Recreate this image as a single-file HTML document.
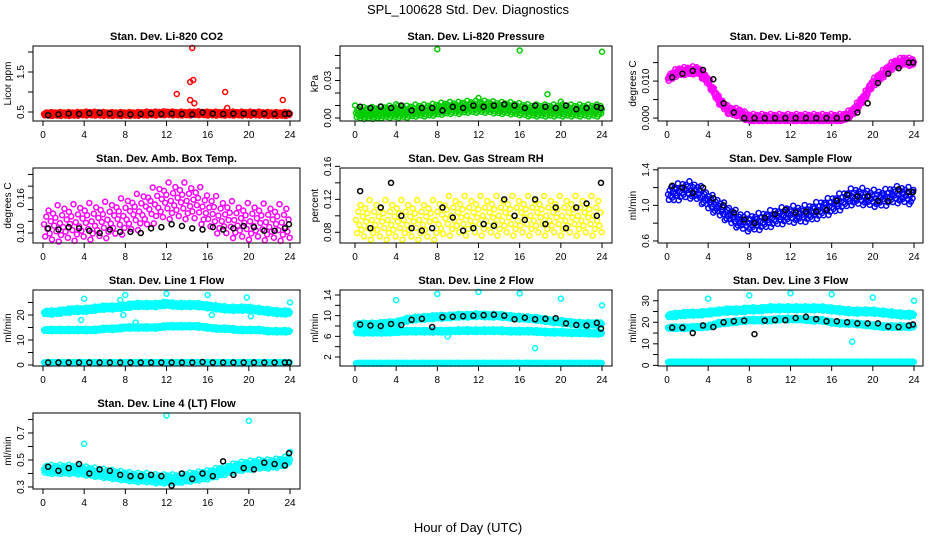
<!DOCTYPE html>
<html><head><meta charset="utf-8"><style>
body{margin:0;background:#fff;}
svg{display:block;font-family:"Liberation Sans",sans-serif;}
</style></head><body>
<svg id="c" width="936" height="540" xmlns="http://www.w3.org/2000/svg">
<text x="468" y="14" text-anchor="middle" font-size="13">SPL_100628  Std. Dev. Diagnostics</text>
<text x="468" y="532" text-anchor="middle" font-size="13">Hour of Day (UTC)</text>
</svg>
<script>
// hourly values (hours 0..24)
const hours=[0,1,2,3,4,5,6,7,8,9,10,11,12,13,14,15,16,17,18,19,20,21,22,23,24];
const co2Band=[0.45,0.45,0.45,0.45,0.46,0.46,0.45,0.45,0.45,0.45,0.46,0.46,0.47,0.46,0.46,0.47,0.46,0.46,0.46,0.46,0.46,0.46,0.45,0.45,0.45];
const co2Black=[0.42,0.44,0.46,0.45,0.47,0.48,0.46,0.45,0.44,0.45,0.46,0.45,0.46,0.45,0.44,0.49,0.46,0.45,0.46,0.46,0.47,0.46,0.45,0.45,0.46];
const co2OutX=[14.5,14.3,14.6,13,17.7,14.3,14.7,23.3,17.9];
const co2OutY=[2.1,1.25,1.3,0.95,1.0,0.8,0.72,0.8,0.6];
const presBand=[0.004,0.004,0.004,0.005,0.005,0.005,0.006,0.006,0.007,0.008,0.008,0.009,0.009,0.009,0.008,0.008,0.007,0.006,0.006,0.006,0.006,0.006,0.006,0.006,0.006];
const presBlack=[0.009,0.008,0.009,0.008,0.01,0.006,0.008,0.008,0.006,0.009,0.008,0.01,0.009,0.01,0.011,0.01,0.008,0.01,0.009,0.008,0.01,0.007,0.008,0.009,0.008];
const presOutX=[8,16,24,12,18.7,0,4,20];
const presOutY=[0.055,0.054,0.053,0.016,0.019,0.010,0.011,0.013];
const ltBand=[0.0105,0.0125,0.0128,0.013,0.010,0.005,0.002,0.0015,0,0,0,0,0,0,0,0,0,0,0.0015,0.005,0.0095,0.012,0.0145,0.0155,0.015];
const ltBlack=[0.011,0.012,0.0128,0.013,0.0105,0.004,0.0015,0,0,0,0,0,0,0,0,0,0,0,0.0015,0.004,0.0095,0.012,0.0135,0.015,0.015];
const ambBand=[0.115,0.115,0.118,0.118,0.12,0.12,0.122,0.125,0.13,0.135,0.14,0.15,0.155,0.155,0.155,0.15,0.14,0.13,0.125,0.12,0.12,0.12,0.118,0.118,0.118];
const ambBlack=[0.108,0.106,0.11,0.108,0.104,0.1,0.106,0.102,0.102,0.1,0.108,0.11,0.115,0.112,0.108,0.106,0.11,0.106,0.108,0.112,0.11,0.104,0.104,0.108,0.115];
const rhBand=[0.095,0.095,0.095,0.095,0.095,0.095,0.095,0.095,0.095,0.1,0.1,0.1,0.1,0.1,0.1,0.1,0.1,0.1,0.1,0.1,0.1,0.1,0.1,0.1,0.1];
const rhBlack=[0.13,0.085,0.11,0.14,0.1,0.085,0.082,0.085,0.11,0.098,0.082,0.085,0.09,0.088,0.12,0.1,0.095,0.12,0.09,0.11,0.085,0.11,0.115,0.1,0.14];
const sfBand=[1.12,1.15,1.18,1.15,1.05,0.98,0.9,0.83,0.8,0.82,0.85,0.88,0.9,0.9,0.92,0.96,1.0,1.05,1.1,1.1,1.08,1.08,1.12,1.12,1.1];
const sfBlack=[1.22,1.2,1.14,1.2,1.08,1.0,0.92,0.84,0.8,0.86,0.9,0.95,0.92,0.93,0.93,0.95,1.05,1.12,1.1,1.1,1.05,1.05,1.18,1.15,1.15];
const l1Upper=[21,21,21.5,22,22,22.5,23,23,23.5,24,24,24,24.5,24,24,24,23.5,23,22.5,22.5,22.5,22,21.5,21,21];
const l1Middle=[14,14,14,14,14,14,14.5,14.5,15,15,15,15,15.5,15.5,15.5,15.5,15,14.5,14.5,14,14,14,13.5,13.5,13.5];
const l1Lower=[1,1,1,1,1,1,1,1,1,1,1,1,1,1,1,1,1,1,1,1,1,1,1,1,1];
const l1Black=[1,1,1,1,1,1,1,1,1,1,1,1,1,1,1,1.2,1,1,1,1,1,1,1,1,1];
const l2Upper=[8.3,8.3,8.3,8.5,8.6,9.2,9.5,9.6,9.8,9.8,10,10,10.1,10,10,9.8,9.6,9.5,9.3,9,8.8,8.6,8.4,8.4,8.4];
const l2Middle=[6.8,6.8,6.8,6.8,6.9,7,7,7,7,7,7.1,7.1,7.1,7.1,7.1,7,7,7,6.9,6.8,6.8,6.7,6.7,6.6,6.6];
const l2Lower=[0.8,0.8,0.8,0.8,0.8,0.8,0.8,0.8,0.8,0.8,0.8,0.8,0.8,0.8,0.8,0.8,0.8,0.8,0.8,0.8,0.8,0.8,0.8,0.8,0.8];
const l2Black=[8.3,8.1,8,8.4,8.2,9.2,9.4,7.8,9.7,9.8,9.9,10,10.1,10.2,10,9.3,9.6,9.3,9.4,9.5,8.5,8.2,8.1,8.6,7.5];
const l3Upper=[23,23.5,24,24,24.5,25,25.5,25.5,26,26,26.5,26.5,26.5,26.5,26.5,26.5,26,25.5,25,25,25,24.5,24,23.5,23.5];
const l3Middle=[17.5,17.5,17.5,17.8,18,19.5,20,20.5,21,21,21,21.5,21.5,21.5,21,21,20,19.5,19.5,19,18.5,18,18,18,18];
const l3Lower=[1.5,1.5,1.5,1.5,1.5,1.5,1.5,1.5,1.5,1.5,1.5,1.5,1.5,1.5,1.5,1.5,1.5,1.5,1.5,1.5,1.5,1.5,1.5,1.5,1.5];
const l3Black=[17.5,17.5,15,18.5,17.8,20,20.5,20.8,14.5,20.8,21,21,22,22.5,21.5,20.5,20.5,20,19.5,19.5,19.5,18,17.8,18.5,19];
const l4Band=[0.43,0.43,0.43,0.43,0.42,0.41,0.4,0.39,0.38,0.37,0.37,0.36,0.36,0.36,0.37,0.38,0.39,0.41,0.43,0.45,0.46,0.47,0.47,0.48,0.5];
const l4Black=[0.45,0.42,0.44,0.47,0.4,0.43,0.42,0.39,0.38,0.38,0.39,0.38,0.31,0.4,0.36,0.4,0.38,0.49,0.39,0.44,0.43,0.48,0.47,0.46,0.55];
const l1OutX=[4,7.5,8,12,16,19.8,24,7.8,9,20.2,16.4,3.7];
const l1OutY=[26.5,26,28,28.5,28,27,25,20,17,19.5,20,18];
const l2OutX=[4,8,12,16,20,24,17.5,9];
const l2OutY=[13,14.2,14.6,14.3,13.3,12,3.7,6];
const l3OutX=[4,8,12,16,20,24,18];
const l3OutY=[31,32.5,33.5,33,31.5,30,11];
const l4OutX=[12,20,4,24];
const l4OutY=[0.83,0.79,0.62,0.56];

const cols=[[33,300,43,290],[340,612,355,602],[658,923,667,914]];
const rows=[[46,121],[168,243],[290,366],[413,489]];
const svg=document.getElementById('c');
const NS='http://www.w3.org/2000/svg';
function el(tag,attrs,parent){const e=document.createElementNS(NS,tag);for(const k in attrs)e.setAttribute(k,attrs[k]);(parent||svg).appendChild(e);return e;}

function panel(ci,ri,title,ylab,ymin,ymax,ticks,labels,name){
  const c=cols[ci],r=rows[ri];
  const g=el('g',{});
  
  
  const xs=h=>c[2]+(c[3]-c[2])*h/24;
  const ys=v=>r[1]-(v-ymin)/(ymax-ymin)*(r[1]-r[0]);
  const t=el('text',{x:(c[0]+c[1])/2,y:r[0]-6,'text-anchor':'middle','font-size':11,'font-weight':'bold'},g);
  t.textContent=title;
  
  
  const ax=el('g',{stroke:'#000','stroke-width':1},g);
  
  
  for(let h=0;h<=24;h+=4){
    el('line',{x1:xs(h),x2:xs(h),y1:r[1],y2:r[1]+5},ax);
    const tl=el('text',{x:xs(h),y:r[1]+17,'text-anchor':'middle','font-size':10,stroke:'none'},ax);
    tl.textContent=h;
    
    
  }
  const ay=el('g',{stroke:'#000','stroke-width':1},g);
  
  
  ticks.forEach((v,i)=>{
    const y=ys(v);
    el('line',{x1:c[0]-5,x2:c[0],y1:y,y2:y},ay);
    if(labels[i]){
      const tl=el('text',{x:c[0]-9,y:y,'text-anchor':'middle','font-size':10,stroke:'none',transform:`rotate(-90 ${c[0]-9} ${y})`},ay);
      tl.textContent=labels[i];
      
      
    }
  });
  const yl=el('text',{x:c[0]-22,y:(r[0]+r[1])/2,'text-anchor':'middle','font-size':10,transform:`rotate(-90 ${c[0]-22} ${(r[0]+r[1])/2})`},g);
  yl.textContent=ylab;
  
  
  const pts=el('g',{fill:'none','stroke-width':1.5},g);
  
  
  el('rect',{x:c[0],y:r[0],width:c[1]-c[0],height:r[1]-r[0],fill:'none',stroke:'#000','stroke-width':1},g);
  return {xs,ys,pts,ymin,ymax};
}
function val(arr,h){const i=Math.min(23,Math.floor(h)),f=h-i;return arr[i]*(1-f)+arr[i+1]*f;}
const jit=[0,-0.8,0.5,-0.3,0.9,-0.6,0.2,-1,0.7,-0.1,0.4,-0.5,1.2,-1.2];
function band(P,arr,spread,color,step){
  step=step||0.06;
  let k=0;
  for(let h=0.1;h<=24;h+=step){
    const v=val(arr,h)+jit[k%jit.length]*spread;k++;
    const y=Math.max(P.ys(P.ymax),Math.min(P.ys(P.ymin),P.ys(v)));
    const ci=el('circle',{cx:P.xs(h),cy:y,r:2.5,stroke:color},P.pts);
    
    
  }
}
function pointsH(P,arr,color){
  arr.forEach((v,i)=>{
    const h=Math.min(23.9,i+0.5);
    const ci=el('circle',{cx:P.xs(h),cy:P.ys(v),r:2.5,stroke:color},P.pts);
    
    
  });
}
function pointsXY(P,xsArr,ysArr,color){
  xsArr.forEach((x,i)=>{
    const ci=el('circle',{cx:P.xs(x),cy:P.ys(ysArr[i]),r:2.5,stroke:color},P.pts);
    
    
  });
}
const CY='#00ffff';
let P;
P=panel(0,0,'Stan. Dev. Li-820 CO2','Licor ppm',0.275,2.15,[0.5,1,1.5,2],['0.5','','1.5',''],'co2');
band(P,co2Band,0.04,'#ff0000');pointsXY(P,co2OutX,co2OutY,'#ff0000');pointsH(P,co2Black,'#000');
P=panel(1,0,'Stan. Dev. Li-820 Pressure','kPa',-0.0024,0.0576,[0,0.01,0.02,0.03,0.04,0.05],['0.00','','','0.03','',''],'pressure');
band(P,presBand,0.004,'#00cc00');pointsXY(P,presOutX,presOutY,'#00cc00');pointsH(P,presBlack,'#000');
P=panel(2,0,'Stan. Dev. Li-820 Temp.','degrees C',-0.0008,0.0195,[0,0.005,0.01,0.015],['0.000','','0.010',''],'li820-temp');
band(P,ltBand,0.0009,'#ff00ff');pointsH(P,ltBlack,'#000');
P=panel(0,1,'Stan. Dev. Amb. Box Temp.','degrees C',0.083,0.211,[0.1,0.12,0.14,0.16,0.18,0.2],['0.10','','','0.16','',''],'amb-temp');
band(P,ambBand,0.026,'#ff00ff',0.11);pointsH(P,ambBlack,'#000');
P=panel(1,1,'Stan. Dev. Gas Stream RH','percent',0.067,0.158,[0.08,0.1,0.12,0.14,0.16],['0.08','','0.12','','0.16'],'rh');
band(P,rhBand,0.02,'#ffff00',0.11);pointsH(P,rhBlack,'#000');
P=panel(2,1,'Stan. Dev. Sample Flow','ml/min',0.577,1.42,[0.6,0.8,1.0,1.2,1.4],['0.6','','1.0','','1.4'],'sample-flow');
band(P,sfBand,0.08,'#0000ff',0.08);pointsH(P,sfBlack,'#000');
P=panel(0,2,'Stan. Dev. Line 1 Flow','ml/min',-0.4,30,[0,5,10,15,20,25],['0','','10','','20',''],'line1');
band(P,l1Upper,0.7,CY);band(P,l1Middle,0.4,CY);band(P,l1Lower,0.15,CY);pointsXY(P,l1OutX,l1OutY,CY);pointsH(P,l1Black,'#000');
P=panel(1,2,'Stan. Dev. Line 2 Flow','ml/min',0.26,14.97,[2,4,6,8,10,12,14],['2','','6','','10','','14'],'line2');
band(P,l2Upper,0.3,CY);band(P,l2Middle,0.22,CY);band(P,l2Lower,0.08,CY);pointsXY(P,l2OutX,l2OutY,CY);pointsH(P,l2Black,'#000');
P=panel(2,2,'Stan. Dev. Line 3 Flow','ml/min',-0.3,35,[0,5,10,15,20,25,30],['0','','10','','20','','30'],'line3');
band(P,l3Upper,0.8,CY);band(P,l3Middle,0.5,CY);band(P,l3Lower,0.25,CY);pointsXY(P,l3OutX,l3OutY,CY);pointsH(P,l3Black,'#000');
P=panel(0,3,'Stan. Dev. Line 4 (LT) Flow','ml/min',0.285,0.848,[0.3,0.4,0.5,0.6,0.7,0.8],['0.3','','0.5','','0.7',''],'line4');
band(P,l4Band,0.028,CY);pointsXY(P,l4OutX,l4OutY,CY);pointsH(P,l4Black,'#000');
</script>
</body></html>
